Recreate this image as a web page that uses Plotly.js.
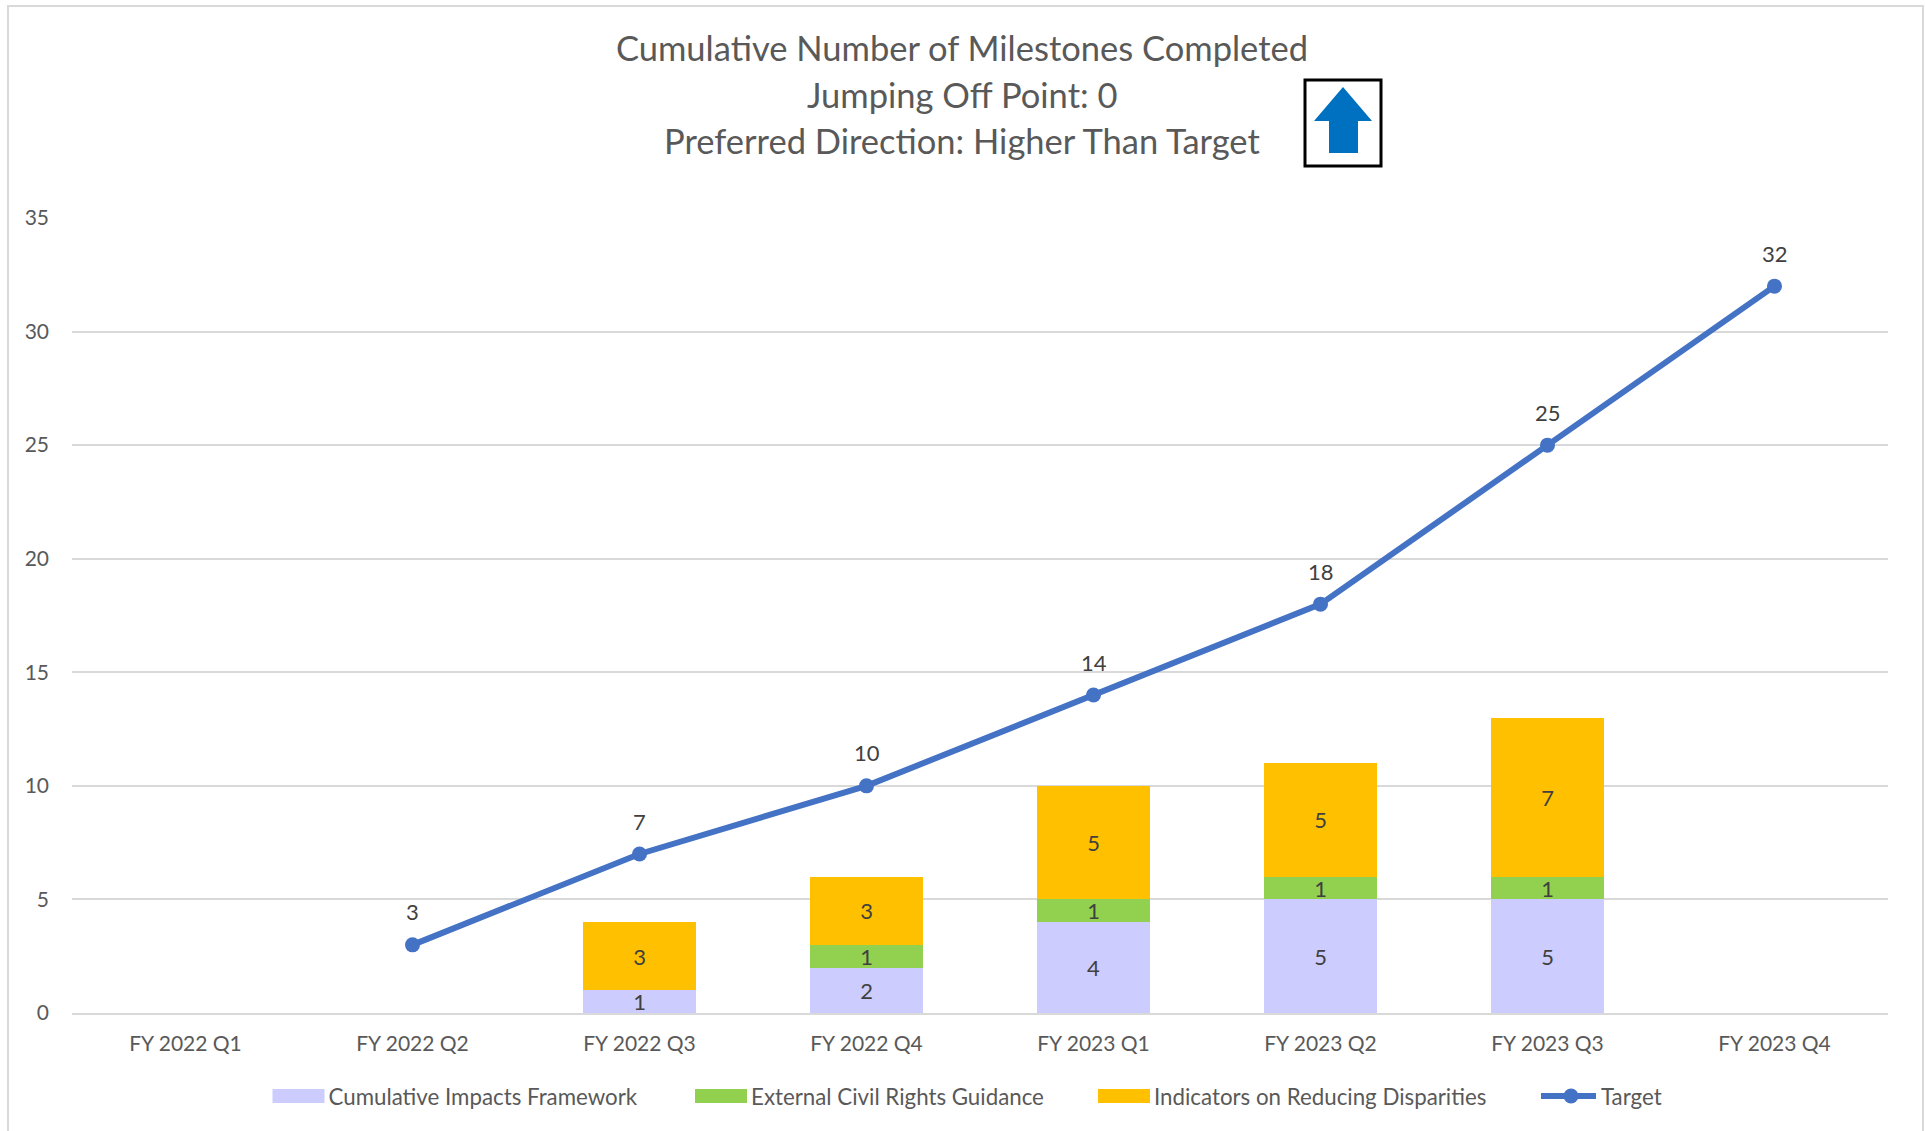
<!DOCTYPE html>
<html>
<head>
<meta charset="utf-8">
<script src="https://cdn.plot.ly/plotly-3.0.1.min.js"></script>
<style>html,body{margin:0;padding:0;background:#fff;overflow:hidden}#chart{width:1925px;height:1131px}</style>
</head>
<body>
<div id="chart"></div>
<script>
const categories = ['FY 2022 Q1','FY 2022 Q2','FY 2022 Q3','FY 2022 Q4','FY 2023 Q1','FY 2023 Q2','FY 2023 Q3','FY 2023 Q4'];
const cumulativeImpacts = [null,null,1,2,4,5,5,null];
const externalCivilRights = [null,null,null,1,1,1,1,null];
const indicatorsDisparities = [null,null,3,3,5,5,7,null];
const target = [null,3,7,10,14,18,25,32];
const yTicks = [0,5,10,15,20,25,30,35];
const titleLines = ['Cumulative Number of Milestones Completed','Jumping Off Point: 0','Preferred Direction: Higher Than Target'];

const W=1925,H=1131,L=72,R=1888,T=218,B=1013;
const FONT='Lato, "Open Sans", sans-serif';
const px=x=>(x-L)/(R-L), py=y=>(B-y)/(B-T);
const barTrace=(name,vals,color)=>({type:'bar',name,x:categories,y:vals,marker:{color,line:{width:0}},
  text:vals.map(v=>v==null?'':String(v)),textposition:'inside',insidetextanchor:'middle',constraintext:'none',
  textangle:0,textfont:{family:FONT,size:22,color:'#404040'},hoverinfo:'name+y'});
const traces=[
  barTrace('Cumulative Impacts Framework',cumulativeImpacts,'#CCCCFF'),
  barTrace('External Civil Rights Guidance',externalCivilRights,'#92D050'),
  barTrace('Indicators on Reducing Disparities',indicatorsDisparities,'#FFC000'),
  {type:'scatter',mode:'lines+markers',name:'Target',x:categories,y:target,
   line:{color:'#4472C4',width:6},marker:{color:'#4472C4',size:15}}
];
const pathOf=(pts)=>'M'+pts.map(p=>px(p[0])+','+py(p[1])).join('L')+'Z';
const targetLabels=target.map((v,i)=>v==null?null:({xref:'x',yref:'y',x:categories[i],y:v,text:String(v),showarrow:false,
  xanchor:'center',yanchor:'middle',yshift:33,font:{family:FONT,size:22,color:'#404040'}})).filter(Boolean);
const layout={
  width:W,height:H,margin:{l:L,r:W-R,t:T,b:H-B,pad:0},
  paper_bgcolor:'#fff',plot_bgcolor:'#fff',barmode:'stack',bargap:0.5,
  font:{family:FONT,size:21,color:'#595959'},
  title:{text:titleLines[0],font:{family:FONT,size:34.5,color:'#595959'},x:962/W,xanchor:'center',y:1-49/H,yanchor:'middle'},
  xaxis:{type:'category',categories,showgrid:false,showline:true,linecolor:'#D9D9D9',linewidth:2,ticks:'',
         tickfont:{family:FONT,size:21,color:'#595959'},ticklen:0,automargin:false,range:[-0.5,7.5],fixedrange:true,ticklabelstandoff:11},
  yaxis:{range:[0,35],tickvals:yTicks,showgrid:true,gridcolor:'#D9D9D9',gridwidth:2,zeroline:false,showline:false,ticks:'',
         tickfont:{family:FONT,size:21,color:'#595959'},automargin:false,fixedrange:true,ticklabelstandoff:22},
  legend:{orientation:'h',xanchor:'center',x:px(962),yanchor:'middle',y:py(1096),traceorder:'normal',
          font:{family:FONT,size:22.3,color:'#595959'},itemwidth:50,bgcolor:'rgba(0,0,0,0)'},
  annotations:[
    {xref:'paper',yref:'paper',x:px(962),y:py(94),text:titleLines[1],showarrow:false,xanchor:'center',yanchor:'middle',font:{family:FONT,size:34.5,color:'#595959'}},
    {xref:'paper',yref:'paper',x:px(962),y:py(140),text:titleLines[2],showarrow:false,xanchor:'center',yanchor:'middle',font:{family:FONT,size:34.5,color:'#595959'}},
    ...targetLabels
  ],
  shapes:[
    {type:'path',xref:'paper',yref:'paper',path:'M'+px(8)+','+py(1131)+'L'+px(8)+','+py(6)+'L'+px(1923)+','+py(6)+'L'+px(1923)+','+py(1131),line:{color:'#D9D9D9',width:2},layer:'below'},
    {type:'rect',xref:'paper',yref:'paper',x0:px(1305),x1:px(1381),y0:py(166),y1:py(80),line:{color:'#000',width:3},fillcolor:'#fff'},
    {type:'path',xref:'paper',yref:'paper',path:pathOf([[1343,87],[1372,121],[1358,121],[1358,153],[1329,153],[1329,121],[1314,121]]),line:{width:0},fillcolor:'#0070C0'}
  ]
};
const legendOrigins=[268.5,691,1094,1541];
Plotly.newPlot('chart',traces,layout,{displayModeBar:false,responsive:false}).then(gd=>{
  const legend=gd.querySelector('.legend');
  const m=/translate\(([-\d.]+)[ ,]+([-\d.]+)\)/.exec(legend.getAttribute('transform'));
  const lx=parseFloat(m[1]);
  const sb=legend.querySelector('.scrollbox'); if(sb) sb.removeAttribute('clip-path');
  legend.removeAttribute('clip-path');
  legend.querySelectorAll('.traces').forEach((g,i)=>{
    const t=/translate\(([-\d.]+)[ ,]+([-\d.]+)\)/.exec(g.getAttribute('transform'));
    g.setAttribute('transform','translate('+(legendOrigins[i]-lx)+','+t[2]+')');
    g.querySelectorAll('path').forEach(p=>{
      const d=p.getAttribute('d')||'';
      if(i<3 && /^M6,6/.test(d)) p.setAttribute('d','M26,7H-26V-7H26Z');
      if(i===3 && /^M5,0h/.test(d)) p.setAttribute('d','M0,0h55');
    });
  });
});
</script>
</body>
</html>
